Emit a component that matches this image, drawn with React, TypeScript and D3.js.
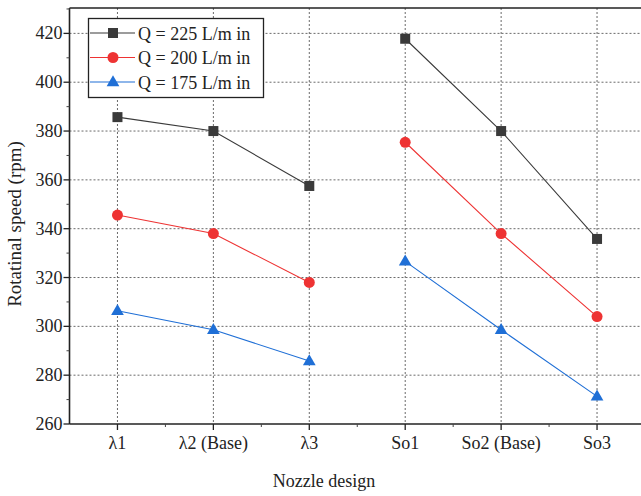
import React from "react";
import * as d3 from "d3";

const categories = ["λ1", "λ2 (Base)", "λ3", "So1", "So2 (Base)", "So3"];
const groups = [[0, 1, 2], [3, 4, 5]];
const seriesNames = ["Q = 225 L/m in", "Q = 200 L/m in", "Q = 175 L/m in"];
const q225 = [385.7, 380, 357.5, 417.8, 380, 335.8];
const q200 = [345.6, 338, 318, 375.4, 338, 304];
const q175 = [306.4, 298.6, 285.8, 326.6, 298.6, 271.3];
const yTicks = [260, 280, 300, 320, 340, 360, 380, 400, 420];

const W = 641;
const H = 496;
const left = 69.5;
const top = 8;
const bottom = 424;
const right = 645;

const colors = ["#3a3a3a", "#ee3333", "#1f6fd6"];
const font = "Liberation Serif, Times New Roman, serif";
const txt = { fontFamily: font } as React.CSSProperties;

export default function App() {
  const x = d3.scaleLinear().domain([-0.5, categories.length - 0.5]).range([left, right]);
  const y = d3.scaleLinear().domain([260, 430.4]).range([bottom, top]);
  const series = [q225, q200, q175];
  const minorY = d3.range(270, 431, 20);
  const minorX = d3.range(0, categories.length).map((i) => i + 0.5);

  const marker = (k: number, cx: number, cy: number, key: string) => {
    if (k === 0) return <rect key={key} x={cx - 5} y={cy - 5} width={10} height={10} fill={colors[0]} />;
    if (k === 1) return <circle key={key} cx={cx} cy={cy} r={5.5} fill={colors[1]} />;
    const s = d3.symbol(d3.symbolTriangle, 70)();
    return <path key={key} d={s || ""} transform={`translate(${cx},${cy + 0.5})`} fill={colors[2]} />;
  };

  return (
    <svg width={W} height={H} style={{ position: "absolute", left: 0, top: 0, background: "#fff" }}>
      <rect width={W} height={H} fill="#fff" />
      {/* grid */}
      {yTicks.slice(1).map((t) => (
        <line key={"gy" + t} x1={left} x2={W} y1={y(t)} y2={y(t)} stroke="#6a6a6a" strokeWidth={1} strokeDasharray="2,2" />
      ))}
      {categories.map((c, i) => (
        <line key={"gx" + c} x1={x(i)} x2={x(i)} y1={top} y2={bottom} stroke="#6a6a6a" strokeWidth={1} strokeDasharray="2,2" />
      ))}
      {/* series, drawn as two separate groups */}
      {series.map((s, k) => (
        <g key={"s" + k}>
          {groups.map((g, gi) => (
            <path
              key={"p" + gi}
              d={d3.line<number>().x((i) => x(i)).y((i) => y(s[i]))(g) || ""}
              fill="none"
              stroke={colors[k]}
              strokeWidth={1.1}
            />
          ))}
          {s.map((v, i) => marker(k, x(i), y(v), `m${k}-${i}`))}
        </g>
      ))}
      {/* axes frame */}
      <line x1={left} x2={W} y1={top} y2={top} stroke="#222" strokeWidth={1.6} />
      <line x1={left} x2={left} y1={top} y2={bottom} stroke="#222" strokeWidth={1.6} />
      <line x1={left} x2={W} y1={bottom} y2={bottom} stroke="#222" strokeWidth={1.6} />
      {/* y ticks */}
      {yTicks.map((t) => (
        <g key={"yt" + t}>
          <line x1={left - 6} x2={left} y1={y(t)} y2={y(t)} stroke="#222" strokeWidth={1.3} />
          <text x={left - 7} y={y(t) + 6} textAnchor="end" style={txt} fontSize={18} fill="#222">
            {t}
          </text>
        </g>
      ))}
      {minorY.map((t) => (
        <line key={"my" + t} x1={left - 3} x2={left} y1={y(t)} y2={y(t)} stroke="#444" strokeWidth={1} />
      ))}
      {/* x ticks */}
      {categories.map((c, i) => (
        <g key={"xt" + c}>
          <line x1={x(i)} x2={x(i)} y1={bottom} y2={bottom + 6} stroke="#222" strokeWidth={1.3} />
          <text x={x(i)} y={bottom + 25} textAnchor="middle" style={txt} fontSize={18} fill="#222">
            {c}
          </text>
        </g>
      ))}
      {minorX.map((t) => (
        <line key={"mx" + t} x1={x(t)} x2={x(t)} y1={bottom} y2={bottom + 3} stroke="#444" strokeWidth={1} />
      ))}
      {/* axis titles */}
      <text
        transform={`translate(21,224) rotate(-90)`}
        textAnchor="middle"
        style={txt}
        fontSize={19}
        fill="#222"
      >
        Rotatinal speed (rpm)
      </text>
      <text x={324} y={487} textAnchor="middle" style={txt} fontSize={18} fill="#222">
        Nozzle design
      </text>
      {/* legend */}
      <rect x={88.5} y={18.5} width={175} height={79} fill="#fff" stroke="#222" strokeWidth={1.3} />
      {seriesNames.map((n, k) => {
        const ly = 33 + k * 24.5;
        return (
          <g key={"lg" + k}>
            <line x1={90} x2={135} y1={ly} y2={ly} stroke={colors[k]} strokeWidth={1.1} />
            {marker(k, 113, ly, "lm" + k)}
            <text x={138} y={ly + 6.5} style={txt} fontSize={18} fill="#222">
              {n}
            </text>
          </g>
        );
      })}
    </svg>
  );
}
